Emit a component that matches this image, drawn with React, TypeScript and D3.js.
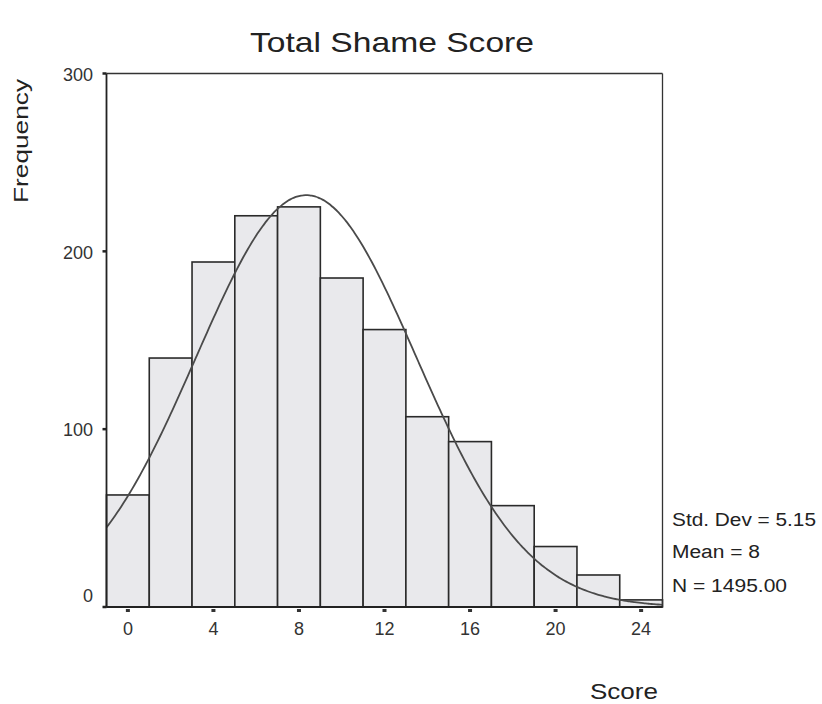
import React from "react";
import * as d3 from "d3";

const binCenters = [0, 2, 4, 6, 8, 10, 12, 14, 16, 18, 20, 22, 24];
const frequencies = [63, 140, 194, 220, 225, 185, 156, 107, 93, 57, 34, 18, 4];
const xTicks = [0, 4, 8, 12, 16, 20, 24];
const yTicks = [0, 100, 200, 300];
const statLines = ["Std. Dev = 5.15", "Mean = 8", "N = 1495.00"];
const curveMean = 8.34;
const curveSd = 5.15;
const curveN = 1495;
const binWidth = 2;

const W = 822;
const H = 704;
const left = 106.5;
const right = 662.5;
const top = 73.5;
const bottom = 607;
const font = "'Liberation Sans', Arial, sans-serif";
const statLengths = [144, 88, 115];

export default function App() {
  const x = d3.scaleLinear().domain([-1, 25]).range([left, right]);
  const y = d3.scaleLinear().domain([0, 300]).range([bottom, top]);

  const curvePts = d3.range(-1, 25.001, 0.1).map((v) => {
    const z = (v - curveMean) / curveSd;
    const dens = Math.exp(-0.5 * z * z) / (curveSd * Math.sqrt(2 * Math.PI));
    return [v, curveN * binWidth * dens] as [number, number];
  });
  const line = d3
    .line<[number, number]>()
    .x((d) => x(d[0]))
    .y((d) => y(d[1]))
    .curve(d3.curveBasis);

  return (
    <svg
      width={W}
      height={H}
      style={{ position: "absolute", left: 0, top: 0, background: "#fff" }}
      fontFamily={font}
    >
      <rect x={0} y={0} width={W} height={H} fill="#fff" />
      <text
        x={392}
        y={52}
        textAnchor="middle"
        fontSize={28}
        fill="#222"
        textLength={284}
        lengthAdjust="spacingAndGlyphs"
      >
        Total Shame Score
      </text>
      <text
        transform={`translate(28,141) rotate(-90)`}
        textAnchor="middle"
        fontSize={21}
        fill="#222"
        textLength={124}
        lengthAdjust="spacingAndGlyphs"
      >
        Frequency
      </text>
      <text
        x={624}
        y={699}
        textAnchor="middle"
        fontSize={22}
        fill="#222"
        textLength={68}
        lengthAdjust="spacingAndGlyphs"
      >
        Score
      </text>

      {/* bars */}
      {binCenters.map((c, i) => (
        <rect
          key={c}
          x={x(c - binWidth / 2)}
          y={y(frequencies[i])}
          width={x(c + binWidth / 2) - x(c - binWidth / 2)}
          height={bottom - y(frequencies[i])}
          fill="#e9e9ec"
          stroke="#2a2a2a"
          strokeWidth={1.6}
        />
      ))}

      {/* normal curve */}
      <path d={line(curvePts) || ""} fill="none" stroke="#4a4a4a" strokeWidth={1.8} />

      {/* frame */}
      <line x1={left} x2={right} y1={top} y2={top} stroke="#333" strokeWidth={1.5} />
      <line x1={right} x2={right} y1={top} y2={bottom} stroke="#333" strokeWidth={1.3} />
      <line x1={left} x2={left} y1={top} y2={bottom} stroke="#222" strokeWidth={1.8} />
      <line x1={left} x2={right} y1={bottom} y2={bottom} stroke="#222" strokeWidth={1.8} />

      {/* y ticks */}
      {yTicks.map((t) => (
        <g key={t}>
          <line x1={left - 4} x2={left} y1={y(t)} y2={y(t)} stroke="#222" strokeWidth={2.5} />
          <text
            x={93}
            y={t === 0 ? 596 : y(t) + 1}
            dy="0.35em"
            textAnchor="end"
            fontSize={18}
            fill="#333"
          >
            {t}
          </text>
        </g>
      ))}

      {/* x ticks */}
      {xTicks.map((t) => (
        <g key={t}>
          <rect x={x(t) - 2} y={bottom + 2} width={4} height={3} fill="#333" />
          <text x={x(t)} y={635} textAnchor="middle" fontSize={18} fill="#333">
            {t}
          </text>
        </g>
      ))}

      {/* stats */}
      {statLines.map((s, i) => (
        <text
          key={s}
          x={672}
          y={[526, 558, 592][i]}
          fontSize={18}
          fill="#222"
          textLength={statLengths[i]}
          lengthAdjust="spacingAndGlyphs"
        >
          {s}
        </text>
      ))}
    </svg>
  );
}
